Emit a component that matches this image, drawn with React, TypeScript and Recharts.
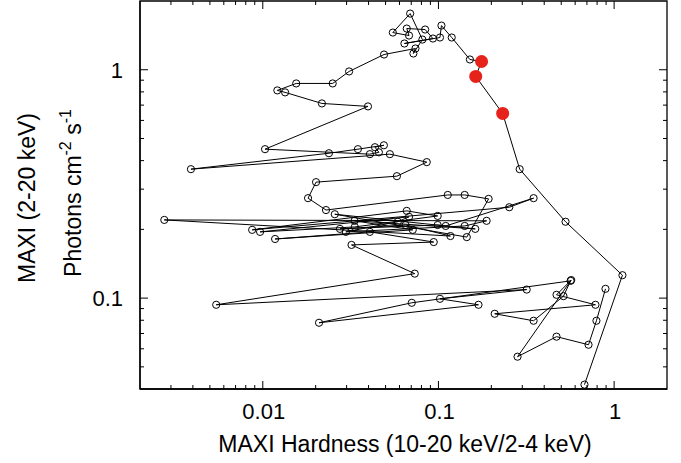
import React from "react";
import { ScatterChart, Scatter, XAxis, YAxis, ReferenceArea } from "recharts";

// hardness ratio (10-20 keV / 2-4 keV), in time order
const hardness = [
  0.678, 1.115, 0.529, 0.29, 0.232, 0.163, 0.176, 0.151, 0.119, 0.104,
  0.102, 0.064, 0.093, 0.084, 0.066, 0.068, 0.055, 0.069, 0.081, 0.072,
  0.074, 0.049, 0.031, 0.025, 0.0155, 0.0121, 0.0134, 0.0217, 0.0397, 0.0103,
  0.0407, 0.0458, 0.0435, 0.0489, 0.0348, 0.0238, 0.0039, 0.0529, 0.0858, 0.058,
  0.0201, 0.0181, 0.0229, 0.113, 0.141, 0.193, 0.145, 0.0257, 0.11, 0.348,
  0.253, 0.0087, 0.066, 0.099, 0.0334, 0.00965, 0.068, 0.0587, 0.0297, 0.141,
  0.188, 0.00275, 0.117, 0.065, 0.0275, 0.099, 0.162, 0.0333, 0.0714, 0.01175,
  0.0407, 0.094, 0.032, 0.0733, 0.00543, 0.318, 0.102, 0.169, 0.0209, 0.0705,
  0.565, 0.515, 0.348, 0.209, 0.783, 0.47, 0.57, 0.282, 0.47, 0.715,
  0.793, 0.893,
];

// MAXI 2-20 keV flux (photons cm^-2 s^-1)
const flux = [
  0.0418, 0.126, 0.216, 0.367, 0.644, 0.935, 1.087, 1.109, 1.384, 1.561,
  1.384, 1.303, 1.37, 1.5, 1.515, 1.412, 1.455, 1.762, 1.356, 1.178,
  1.239, 1.166, 0.983, 0.871, 0.871, 0.812, 0.796, 0.712, 0.691, 0.449,
  0.427, 0.435, 0.458, 0.467, 0.449, 0.431, 0.367, 0.427, 0.394, 0.342,
  0.322, 0.274, 0.243, 0.283, 0.283, 0.272, 0.185, 0.233, 0.207, 0.274,
  0.25, 0.199, 0.241, 0.229, 0.205, 0.195, 0.227, 0.216, 0.195, 0.207,
  0.218, 0.22, 0.187, 0.209, 0.201, 0.209, 0.201, 0.218, 0.199, 0.1815,
  0.195, 0.176, 0.171, 0.128, 0.0935, 0.109, 0.0993, 0.0935, 0.078, 0.0954,
  0.119, 0.102, 0.0796, 0.0854, 0.0935, 0.1034, 0.12, 0.0554, 0.0678, 0.0625,
  0.0796, 0.1098,
];

// highlighted observations
const flareHardness = [0.232, 0.163, 0.176];
const flareFlux = [0.644, 0.935, 1.087];

const xTicks = [
  0.003, 0.004, 0.005, 0.006, 0.007, 0.008, 0.009, 0.01,
  0.02, 0.03, 0.04, 0.05, 0.06, 0.07, 0.08, 0.09, 0.1,
  0.2, 0.3, 0.4, 0.5, 0.6, 0.7, 0.8, 0.9, 1,
];
const xLabels = [0.01, 0.1, 1];
const yTicks = [
  0.05, 0.06, 0.07, 0.08, 0.09, 0.1,
  0.2, 0.3, 0.4, 0.5, 0.6, 0.7, 0.8, 0.9, 1,
];
const yLabels = [0.1, 1];

const points = hardness.map((h, i) => ({ h, f: flux[i] }));
const flarePoints = flareHardness.map((h, i) => ({ h, f: flareFlux[i] }));

const FONT = "'Liberation Sans', Arial, Helvetica, sans-serif";
const TOP = 1;
const RIGHT = 667;

const BottomTick = (props: any) => {
  const { x, y, payload } = props;
  const major = xLabels.includes(payload.value);
  const len = major ? 8 : 4;
  return (
    <g>
      <line x1={x} y1={y} x2={x} y2={y - len} stroke="#000" />
      <line x1={x} y1={TOP} x2={x} y2={TOP + len} stroke="#000" />
      {major && (
        <text x={x + 1} y={y + 30} textAnchor="middle" fontSize={22} fontFamily={FONT} fill="#000">
          {payload.value}
        </text>
      )}
    </g>
  );
};

const LeftTick = (props: any) => {
  const { x, y, payload } = props;
  const major = yLabels.includes(payload.value);
  const len = major ? 8 : 4;
  return (
    <g>
      <line x1={x} y1={y} x2={x + len} y2={y} stroke="#000" />
      <line x1={RIGHT} y1={y} x2={RIGHT - len} y2={y} stroke="#000" />
      {major && (
        <text x={x - 17} y={y + 8} textAnchor="end" fontSize={22} fontFamily={FONT} fill="#000">
          {payload.value}
        </text>
      )}
    </g>
  );
};

const XTitle = () => (
  <text x={405} y={452} textAnchor="middle" fontSize={23} fontFamily={FONT} fill="#000">
    MAXI Hardness (10-20 keV/2-4 keV)
  </text>
);

const YTitle = () => (
  <g fontFamily={FONT} fill="#000">
    <text transform="translate(35,198) rotate(-90)" textAnchor="middle" fontSize={23}>
      MAXI (2-20 keV)
    </text>
    <text transform="translate(81,193) rotate(-90)" textAnchor="middle" fontSize={23}>
      Photons cm
      <tspan fontSize={16} dy={-10}>-2</tspan>
      <tspan dy={10}> s</tspan>
      <tspan fontSize={16} dy={-10}>-1</tspan>
    </text>
  </g>
);

const OpenCircle = (props: any) => (
  <circle cx={props.cx} cy={props.cy} r={3.6} fill="none" stroke="#000" strokeWidth={1} />
);

const RedDot = (props: any) => (
  <circle cx={props.cx} cy={props.cy} r={6.5} fill="#e5231b" stroke="none" />
);

export default function App() {
  return (
    <div style={{ position: "absolute", left: 0, top: 0, background: "#fff" }}>
      <ScatterChart width={681} height={463} margin={{ top: TOP, right: 14, bottom: 0, left: 0 }}>
        <XAxis
          dataKey="h"
          type="number"
          scale="log"
          domain={[0.002, 2]}
          allowDataOverflow
          ticks={xTicks}
          interval={0}
          tickSize={0}
          tickMargin={0}
          tickLine={false}
          tick={BottomTick}
          axisLine={{ stroke: "#000", strokeWidth: 1.3 }}
          height={74}
          label={XTitle}
        />
        <YAxis
          dataKey="f"
          type="number"
          scale="log"
          domain={[0.04, 2]}
          allowDataOverflow
          ticks={yTicks}
          interval={0}
          tickSize={0}
          tickMargin={0}
          tickLine={false}
          tick={LeftTick}
          axisLine={{ stroke: "#000", strokeWidth: 1.3 }}
          width={140}
          label={YTitle}
        />
        <ReferenceArea x1={0.002} x2={2} y1={0.04} y2={2} fill="none" stroke="#000" strokeWidth={1.3} />
        <Scatter
          data={points}
          line={{ stroke: "#000", strokeWidth: 1 }}
          lineType="joint"
          shape={OpenCircle}
          isAnimationActive={false}
        />
        <Scatter data={flarePoints} shape={RedDot} isAnimationActive={false} />
      </ScatterChart>
    </div>
  );
}
